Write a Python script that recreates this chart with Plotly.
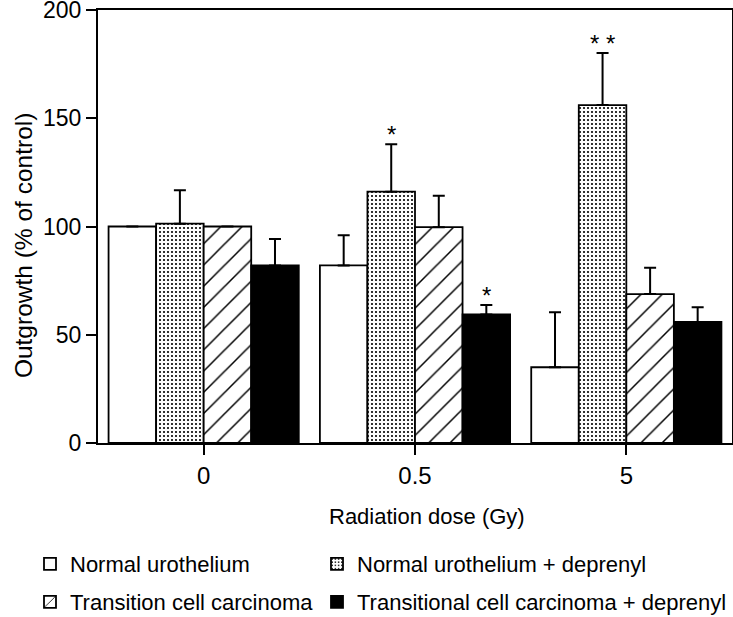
import plotly.graph_objects as go

# ---------------- data ----------------
doses = ["0", "0.5", "5"]
series_names = [
    "Normal urothelium",
    "Normal urothelium + deprenyl",
    "Transition cell carcinoma",
    "Transitional cell carcinoma + deprenyl",
]
normal = [100, 82, 35]
normal_err = [0, 14, 25.4]
normal_dep = [101.3, 116.1, 156.1]
normal_dep_err = [15.5, 21.9, 24]
tcc = [100, 99.7, 68.8]
tcc_err = [0, 14.5, 12.2]
tcc_dep = [82, 59.4, 55.9]
tcc_dep_err = [12.2, 4.3, 6.8]

# significance marks: (dose index, series index, label)
sig_dose = [1, 1, 2]
sig_series = [1, 3, 1]
sig_label = ["*", "*", "* *"]

y_ticks = [0, 50, 100, 150, 200]

# ---------------- style ----------------
FONT = "Liberation Sans, Arial, Helvetica, sans-serif"
values = [normal, normal_dep, tcc, tcc_dep]
errors = [normal_err, normal_dep_err, tcc_err, tcc_dep_err]
fills = [
    dict(color="white"),
    dict(color="white", pattern=dict(shape=".", fgcolor="black", bgcolor="white", size=4,
                                     solidity=0.22, fgopacity=1)),
    dict(color="white", pattern=dict(shape="/", fgcolor="black", bgcolor="white", size=15,
                                     solidity=0.1, fgopacity=1)),
    dict(color="black"),
]
legend_ids = ["legend", "legend2", "legend3", "legend4"]

fig = go.Figure()
for i in range(4):
    m = dict(fills[i])
    m["line"] = dict(color="black", width=1.8)
    fig.add_trace(go.Bar(
        x=doses, y=values[i], name=series_names[i], marker=m,
        error_y=dict(type="data", symmetric=False, array=errors[i],
                     arrayminus=[0] * len(doses), color="black", thickness=2, width=6,
                     visible=True),
        legend=legend_ids[i],
    ))

bargap = 0.1
n_series = len(values)
bar_w = (1 - bargap) / n_series
annotations = []
for d, s, lab in zip(sig_dose, sig_series, sig_label):
    xpos = d + (s - (n_series - 1) / 2) * bar_w
    ytop = values[s][d] + errors[s][d]
    annotations.append(dict(x=xpos, y=ytop, xref="x", yref="y", text=lab, showarrow=False,
                            yanchor="bottom", yshift=-6, font=dict(size=24, family=FONT, color="black")))

annotations.append(dict(x=0.519, y=-0.1686, xref="paper", yref="paper", text="Radiation dose (Gy)",
                        showarrow=False, xanchor="center", yanchor="middle",
                        font=dict(size=22, family=FONT, color="black")))
annotations.append(dict(x=-0.1183, y=0.457, xref="paper", yref="paper", text="Outgrowth (% of control)",
                        showarrow=False, xanchor="center", yanchor="middle", textangle=-90,
                        font=dict(size=24.5, family=FONT, color="black")))

leg_common = dict(xref="container", yref="container", xanchor="left", yanchor="middle",
                  bgcolor="rgba(0,0,0,0)", borderwidth=0, font=dict(size=22, family=FONT, color="black"))
legend_pos = {
    "legend": (30 / 733, 1 - 564 / 617),
    "legend2": (317 / 733, 1 - 564 / 617),
    "legend3": (30 / 733, 1 - 602 / 617),
    "legend4": (317 / 733, 1 - 602 / 617),
}
layout_legends = {k: dict(leg_common, x=v[0], y=v[1]) for k, v in legend_pos.items()}

fig.update_layout(
    width=733, height=617,
    margin=dict(l=98, r=1, t=10, b=174, autoexpand=False),
    paper_bgcolor="white", plot_bgcolor="white",
    barmode="group", bargap=bargap, bargroupgap=0,
    font=dict(family=FONT, size=22, color="black"),
    showlegend=True,
    annotations=annotations,
    **layout_legends,
)
fig.update_xaxes(type="category", range=[-0.5, 2.5], showline=True, linecolor="black", linewidth=2,
                 mirror=True, ticks="outside", ticklen=10, tickwidth=2, tickcolor="black",
                 showgrid=False, zeroline=False, ticklabeloverflow="allow",
                 tickfont=dict(size=24, family=FONT, color="black"))
fig.update_yaxes(range=[0, 200], tickvals=y_ticks, showline=True, linecolor="black", linewidth=2,
                 mirror=True, ticks="outside", ticklen=10, tickwidth=2, tickcolor="black",
                 showgrid=False, zeroline=False, ticklabeloverflow="allow",
                 tickfont=dict(size=23, family=FONT, color="black"))

fig.write_html("out.html", config={"displayModeBar": False},
               post_script="document.body.style.margin='0';document.body.style.overflow='hidden';")
